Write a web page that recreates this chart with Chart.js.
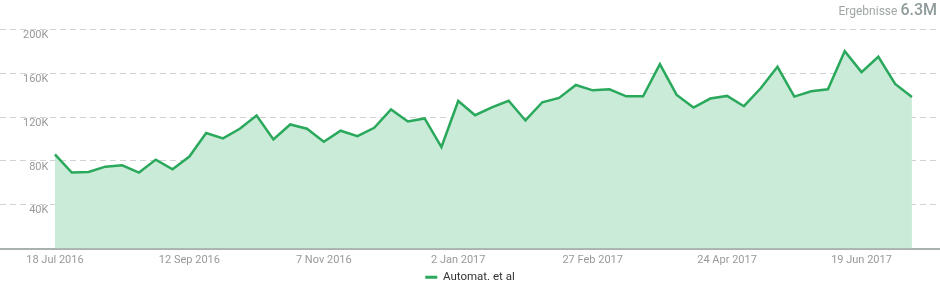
<!DOCTYPE html>
<html>
<head>
<meta charset="utf-8">
<script src="https://cdn.jsdelivr.net/npm/chart.js@4/dist/chart.umd.min.js"></script>
<style>
  html, body { margin: 0; padding: 0; background: #fff; }
  canvas { display: block; }
</style>
</head>
<body>
<canvas id="lineChart" width="940" height="282"></canvas>
<script>
    var weeks = ['18 Jul 2016', '25 Jul 2016', '1 Aug 2016', '8 Aug 2016', '15 Aug 2016', '22 Aug 2016', '29 Aug 2016',
      '5 Sep 2016', '12 Sep 2016', '19 Sep 2016', '26 Sep 2016', '3 Oct 2016', '10 Oct 2016', '17 Oct 2016', '24 Oct 2016',
      '31 Oct 2016', '7 Nov 2016', '14 Nov 2016', '21 Nov 2016', '28 Nov 2016', '5 Dec 2016', '12 Dec 2016', '19 Dec 2016',
      '26 Dec 2016', '2 Jan 2017', '9 Jan 2017', '16 Jan 2017', '23 Jan 2017', '30 Jan 2017', '6 Feb 2017', '13 Feb 2017',
      '20 Feb 2017', '27 Feb 2017', '6 Mar 2017', '13 Mar 2017', '20 Mar 2017', '27 Mar 2017', '3 Apr 2017', '10 Apr 2017',
      '17 Apr 2017', '24 Apr 2017', '1 May 2017', '8 May 2017', '15 May 2017', '22 May 2017', '29 May 2017', '5 Jun 2017',
      '12 Jun 2017', '19 Jun 2017', '26 Jun 2017', '3 Jul 2017', '10 Jul 2017'];

    var results = [86000, 69400, 70000, 74800, 76000, 69400, 81200, 72400, 84000, 105500, 100600, 109400, 121500,
      99700, 113300, 109400, 97600, 107600, 102700, 110300, 127000, 116000, 118800, 92700, 134800, 121800,
      129000, 135000, 117000, 133600, 137600, 149400, 144500, 145500, 139000, 139000, 168500, 140300, 128800,
      137000, 139400, 130000, 146400, 166000, 138800, 143600, 145500, 180300, 161200, 175200, 150300, 138500];

    var xTickLabels = ['18 Jul 2016', '12 Sep 2016', '7 Nov 2016', '2 Jan 2017', '27 Feb 2017', '24 Apr 2017', '19 Jun 2017'];
    var yTicks = [0, 40000, 80000, 120000, 160000, 200000];

    var seriesName = 'Automat. et al';
    var totalLabel = 'Ergebnisse';
    var totalValue = '6.3M';

    var lineColor = '#2aa85c';
    var fillColor = '#c9ebd7';
    var xTickIdx = xTickLabels.map(function (l) { return weeks.indexOf(l); });

    // "Ergebnisse 6.3M" in the top right corner
    var totalPlugin = {
      id: 'total',
      afterDraw: function (chart) {
        var c = chart.ctx;
        c.save();
        c.textBaseline = 'alphabetic';
        c.textAlign = 'right';
        c.fillStyle = '#8f9a9a';
        c.font = '500 16px Roboto';
        var right = 937;
        c.fillText(totalValue, right, 15);
        var w = c.measureText(totalValue).width;
        c.fillStyle = '#9ea6a6';
        c.font = '12px Roboto';
        c.fillText(totalLabel, right - w - 3, 15);
        c.restore();
      }
    };

    var ctx = document.getElementById('lineChart').getContext('2d');
    var lineChart = new Chart(ctx, {
      type: 'line',
      data: {
        datasets: [{
          label: seriesName,
          data: results.map(function (v, i) { return { x: i, y: v }; }),
          borderColor: lineColor,
          backgroundColor: fillColor,
          borderWidth: 2.5,
          fill: 'origin',
          tension: 0,
          pointRadius: 0
        }]
      },
      options: {
        responsive: false,
        animation: false,
        layout: {
          padding: { top: 29, bottom: -11, left: 0, right: 0 }
        },
        plugins: {
          tooltip: { enabled: false },
          legend: {
            position: 'bottom',
            labels: {
              boxWidth: 12,
              boxHeight: 3,
              padding: 6,
              color: '#333',
              font: { family: 'Roboto', size: 11.5 },
              generateLabels: function (chart) {
                return Chart.defaults.plugins.legend.labels.generateLabels(chart).map(function (l) {
                  l.fillStyle = lineColor;
                  l.lineWidth = 0;
                  return l;
                });
              }
            }
          }
        },
        scales: {
          x: {
            type: 'linear',
            min: -3.27,
            max: 52.67,
            afterBuildTicks: function (s) {
              s.ticks = xTickIdx.map(function (v) { return { value: v }; });
            },
            afterFit: function (s) { s.height = 17; },
            grid: { display: false, drawTicks: false },
            border: { display: true, color: '#a9b0b0', width: 2 },
            ticks: {
              autoSkip: false,
              maxRotation: 0,
              padding: 5,
              color: '#999',
              font: { family: 'Roboto', size: 11 },
              callback: function (v) { return weeks[v]; }
            }
          },
          y: {
            min: 0,
            max: 200000,
            afterBuildTicks: function (s) {
              s.ticks = yTicks.map(function (v) { return { value: v }; });
            },
            afterFit: function (s) { s.width = 0; },
            grid: {
              drawTicks: false,
              color: function (c) { return c.tick.value === 0 ? 'rgba(0,0,0,0)' : '#cfd3d3'; }
            },
            border: { display: false, dash: [6, 4] },
            ticks: {
              mirror: true,
              crossAlign: 'far',
              padding: 23,
              labelOffset: 6,
              color: '#999',
              font: { family: 'Roboto', size: 11 },
              callback: function (v) { return v === 0 ? '' : (v / 1000) + 'K'; }
            }
          }
        }
      },
      plugins: [totalPlugin]
    });
</script>
</body>
</html>
